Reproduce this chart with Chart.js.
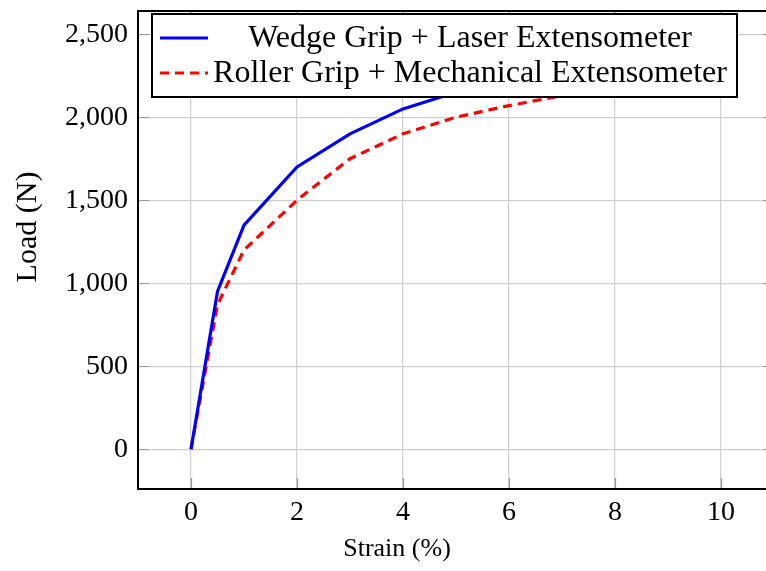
<!DOCTYPE html>
<html lang="en">
<head>
    <meta charset="UTF-8">
    <title>Load vs Strain</title>
    <script src="https://cdn.jsdelivr.net/npm/chart.js"></script>
    <style>
        html, body {margin: 0; padding: 0; overflow: hidden; background: #fff;}
        #wrap {width: 800px; height: 571px;}
    </style>
</head>
<body>
    <div id="wrap"><canvas id="myChart"></canvas></div>

    <script>
        // data
        let strain = [0, 0.5, 1, 2, 3, 4, 5, 6, 7, 8, 9, 10];
        let wedgeLoad = [0, 950, 1350, 1700, 1900, 2050, 2150, 2220, 2280, 2330, 2370, 2400];
        let rollerLoad = [0, 870, 1200, 1500, 1750, 1900, 2000, 2070, 2130, 2180, 2220, 2250];
        let seriesNames = ["Wedge Grip + Laser Extensometer", "Roller Grip + Mechanical Extensometer"];
        let xTicks = [0, 2, 4, 6, 8, 10];
        let yTicks = [0, 500, 1000, 1500, 2000, 2500];
        let yTickLabels = ["0", "500", "1,000", "1,500", "2,000", "2,500"];
        let xTitle = "Strain (%)";
        let yTitle = "Load (N)";

        const SERIF = "'Liberation Serif', 'DejaVu Serif', serif";

        // pgfplots style frame, inside ticks, axis titles and legend box
        const decorPlugin = {
            id: "decor",
            afterDraw(chart) {
                const ctx = chart.ctx;
                const a = chart.chartArea;
                const xs = chart.scales.x, ys = chart.scales.y;
                ctx.save();
                // inner tick marks
                ctx.strokeStyle = "#999";
                ctx.lineWidth = 1.2;
                xTicks.forEach(v => {
                    let px = Math.round(xs.getPixelForValue(v)) + 0.5;
                    ctx.beginPath();
                    ctx.moveTo(px, a.bottom); ctx.lineTo(px, a.bottom - 11);
                    ctx.moveTo(px, a.top); ctx.lineTo(px, a.top + 11);
                    ctx.stroke();
                });
                yTicks.forEach(v => {
                    let py = Math.round(ys.getPixelForValue(v)) + 0.5;
                    ctx.beginPath();
                    ctx.moveTo(a.left, py); ctx.lineTo(a.left + 11, py);
                    ctx.moveTo(a.right, py); ctx.lineTo(a.right - 11, py);
                    ctx.stroke();
                });
                // frame
                ctx.strokeStyle = "#000";
                ctx.lineWidth = 2;
                ctx.strokeRect(a.left, a.top, a.right - a.left, a.bottom - a.top);

                // axis titles
                ctx.fillStyle = "#000";
                ctx.font = "26px " + SERIF;
                ctx.textAlign = "center";
                ctx.textBaseline = "middle";
                ctx.fillText(xTitle, 397, 549);
                ctx.save();
                ctx.translate(28, 227);
                ctx.rotate(-Math.PI / 2);
                ctx.font = "30px " + SERIF;
                ctx.fillText(yTitle, 0, 0);
                ctx.restore();

                // legend
                const lx = 152, ly = 14, lw = 585, lh = 83;
                ctx.fillStyle = "#fff";
                ctx.fillRect(lx, ly, lw, lh);
                ctx.strokeStyle = "#000";
                ctx.lineWidth = 2;
                ctx.strokeRect(lx, ly, lw, lh);
                const rows = [38, 73];
                chart.data.datasets.forEach((ds, i) => {
                    ctx.beginPath();
                    ctx.strokeStyle = ds.borderColor;
                    ctx.lineWidth = ds.borderWidth;
                    ctx.setLineDash(ds.borderDash || []);
                    ctx.moveTo(160, rows[i]);
                    ctx.lineTo(208, rows[i]);
                    ctx.stroke();
                    ctx.setLineDash([]);
                    ctx.fillStyle = "#000";
                    ctx.font = "32px " + SERIF;
                    ctx.textAlign = "center";
                    ctx.textBaseline = "middle";
                    ctx.fillText(ds.label, 470, rows[i] + 1);
                });
                ctx.restore();
            }
        };

        let data = {
            datasets: [
                {
                    label: seriesNames[0],
                    data: strain.map((x, i) => ({x: x, y: wedgeLoad[i]})),
                    borderColor: "#0000ff",
                    borderWidth: 3.2,
                    pointRadius: 0,
                    fill: false,
                    tension: 0
                },
                {
                    label: seriesNames[1],
                    data: strain.map((x, i) => ({x: x, y: rollerLoad[i]})),
                    borderColor: "#ff0000",
                    borderWidth: 3.2,
                    borderDash: [9, 6],
                    pointRadius: 0,
                    fill: false,
                    tension: 0
                }
            ]
        };

        let configs = {
            type: "line",
            data: data,
            plugins: [decorPlugin],
            options: {
                responsive: true,
                maintainAspectRatio: false,
                animation: false,
                layout: {padding: {top: 11, right: 26, left: 0, bottom: 0}},
                plugins: {legend: {display: false}, tooltip: {enabled: false}},
                scales: {
                    x: {
                        type: "linear",
                        min: -1,
                        max: 11,
                        afterBuildTicks: s => { s.ticks = xTicks.map(v => ({value: v})); },
                        afterFit: s => { s.height = 82; s.paddingLeft = 0; s.paddingRight = 0; },
                        grid: {color: "#cfcfcf", lineWidth: 1.2, drawTicks: false},
                        border: {display: false},
                        ticks: {
                            color: "#000",
                            padding: 7,
                            font: {family: SERIF, size: 28},
                            callback: v => String(v)
                        }
                    },
                    y: {
                        type: "linear",
                        min: -240,
                        max: 2640,
                        afterBuildTicks: s => { s.ticks = yTicks.map(v => ({value: v})); },
                        afterFit: s => { s.width = 138; s.paddingTop = 0; s.paddingBottom = 0; },
                        grid: {color: "#cfcfcf", lineWidth: 1.2, drawTicks: false},
                        border: {display: false},
                        ticks: {
                            color: "#000",
                            padding: 10,
                            font: {family: SERIF, size: 28},
                            callback: v => yTickLabels[yTicks.indexOf(v)]
                        }
                    }
                }
            }
        };

        let scoreChart = new Chart(document.getElementById("myChart"), configs);
    </script>
</body>
</html>
